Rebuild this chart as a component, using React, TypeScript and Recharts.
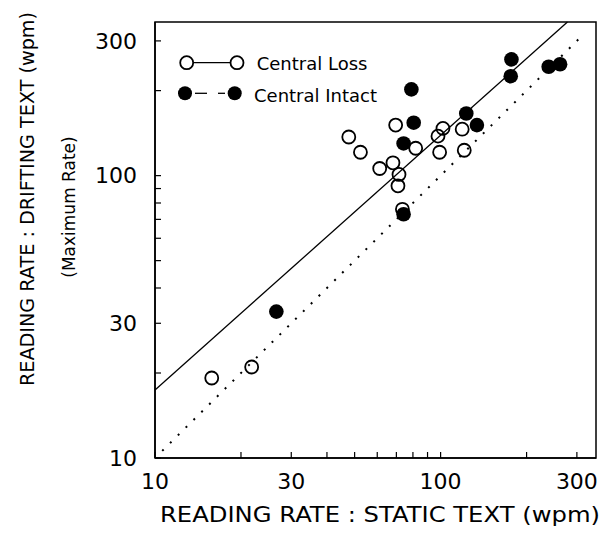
import { Label, Legend, ReferenceArea, ReferenceLine, Scatter, ScatterChart, XAxis, YAxis } from 'recharts';

const SERIES_NAMES = ['Central Loss', 'Central Intact'];

// static text rate (x) vs drifting text max rate (y), wpm
const lossX = [15.8, 21.8, 47.7, 52.4, 61.2, 68.1, 69.6, 71.5, 70.9, 73.5, 81.8, 97.9, 101.9, 99.2, 119, 121];
const lossY = [19.2, 21.0, 137, 121, 106, 111, 151, 101, 92, 76, 125, 138, 147, 121, 146, 123];
const intactX = [26.6, 74.2, 74.2, 80.5, 79, 123, 134, 177, 176, 239, 262];
const intactY = [33, 73, 130, 154, 202, 166, 151, 258, 225, 243, 248];

const TICKS = [10, 20, 30, 40, 50, 60, 70, 80, 90, 100, 200, 300];
const TICK_LABELS = [10, 30, 100, 300];
const DOMAIN = [10, 350];

// regression line and identity line endpoints
const FIT_LINE = [{ x: 10, y: 17.4 }, { x: 278, y: 350 }];
const IDENTITY = [{ x: 10.6, y: 10.6 }, { x: 315, y: 315 }];

const lossData = lossX.map((x, i) => ({ x, y: lossY[i] }));
const intactData = intactX.map((x, i) => ({ x, y: intactY[i] }));

const FONT = 'DejaVu Sans';
const fmt = (v: number) => (TICK_LABELS.includes(v) ? String(v) : '');

const OpenDot = (p: any) => <circle cx={p.cx} cy={p.cy} r={6.5} fill="none" stroke="#000" strokeWidth={1.8} />;
const FilledDot = (p: any) => <circle cx={p.cx} cy={p.cy} r={7.3} fill="#000" />;

const renderLegend = () => (
  <svg width={230} height={64} style={{ display: 'block' }}>
    <line x1={17} y1={14.7} x2={54} y2={14.7} stroke="#000" strokeWidth={1.3} />
    <circle cx={10.7} cy={14.7} r={6.5} fill="#fff" stroke="#000" strokeWidth={1.8} />
    <circle cx={61} cy={14.7} r={6.5} fill="#fff" stroke="#000" strokeWidth={1.8} />
    <text x={80.7} y={22} fontFamily={FONT} fontSize={18} fill="#000">{SERIES_NAMES[0]}</text>
    <line x1={19} y1={45.3} x2={31} y2={45.3} stroke="#000" strokeWidth={1.3} />
    <line x1={42} y1={45.3} x2={49} y2={45.3} stroke="#000" strokeWidth={1.3} />
    <circle cx={9} cy={45.3} r={7} fill="#000" />
    <circle cx={58.7} cy={45.3} r={7} fill="#000" />
    <text x={78} y={53.7} fontFamily={FONT} fontSize={18} fill="#000">{SERIES_NAMES[1]}</text>
  </svg>
);

export default function App() {
  return (
    <ScatterChart width={605} height={530} margin={{ top: 14, right: 17, left: 0, bottom: 0 }}>
      <XAxis
        type="number"
        dataKey="x"
        scale="log"
        domain={DOMAIN}
        allowDataOverflow
        ticks={TICKS}
        interval={0}
        tickFormatter={fmt}
        tickSize={-6}
        tickMargin={21}
        height={80}
        axisLine={{ stroke: '#000', strokeWidth: 1.5 }}
        tickLine={{ stroke: '#000', strokeWidth: 1.2 }}
        tick={{ fill: '#000', fontSize: 22, fontFamily: FONT }}
      >
        <Label
          content={() => (
            <text x={372} y={514} textAnchor="middle" fontFamily={FONT} fontSize={21} fill="#000" textLength={440} lengthAdjust="spacingAndGlyphs">
              READING RATE : STATIC TEXT (wpm)
            </text>
          )}
        />
      </XAxis>
      <YAxis
        type="number"
        dataKey="y"
        scale="log"
        domain={DOMAIN}
        allowDataOverflow
        ticks={TICKS}
        interval={0}
        tickFormatter={fmt}
        tickSize={-6}
        tickMargin={24}
        width={147}
        axisLine={{ stroke: '#000', strokeWidth: 1.5 }}
        tickLine={{ stroke: '#000', strokeWidth: 1.2 }}
        tick={{ fill: '#000', fontSize: 22, fontFamily: FONT }}
      >
        <Label
          content={() => (
            <g>
              <text x={19} y={191} transform="rotate(-90 19 191)" textAnchor="middle" dominantBaseline="central" fontFamily={FONT} fontSize={20} fill="#000" textLength={374} lengthAdjust="spacingAndGlyphs">
                READING RATE : DRIFTING TEXT (wpm)
              </text>
              <text x={60.5} y={199} transform="rotate(-90 60.5 199)" textAnchor="middle" dominantBaseline="central" fontFamily={FONT} fontSize={17} fill="#000">
                (Maximum Rate)
              </text>
            </g>
          )}
        />
      </YAxis>
      <ReferenceArea x1={DOMAIN[0]} x2={DOMAIN[1]} y1={DOMAIN[0]} y2={DOMAIN[1]} fill="none" stroke="#000" strokeWidth={1.5} ifOverflow="visible" />
      <ReferenceLine segment={IDENTITY} stroke="#000" strokeWidth={2} strokeDasharray="2 9" ifOverflow="visible" />
      <ReferenceLine segment={FIT_LINE} stroke="#000" strokeWidth={1.3} ifOverflow="visible" />
      <Scatter name={SERIES_NAMES[0]} data={lossData} shape={OpenDot} isAnimationActive={false} />
      <Scatter name={SERIES_NAMES[1]} data={intactData} shape={FilledDot} isAnimationActive={false} />
      <Legend
        layout="vertical"
        align="center"
        verticalAlign="middle"
        content={renderLegend}
        wrapperStyle={{ left: 168, top: 40, width: 230, height: 64 }}
      />
    </ScatterChart>
  );
}
